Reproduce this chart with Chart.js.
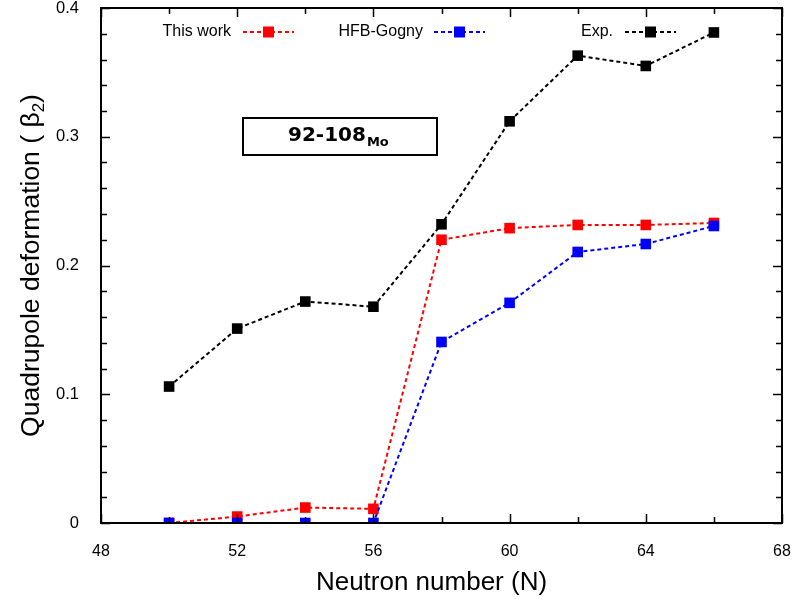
<!DOCTYPE html>
<html>
<head>
<meta charset="utf-8">
<script src="https://cdn.jsdelivr.net/npm/chart.js@4.4.0/dist/chart.umd.min.js"></script>
<style>
  body { margin: 0; background: #fff; }
  #wrap { width: 794px; height: 604px; }
</style>
</head>
<body>
<div id="wrap"><canvas id="canvas" width="794" height="604"></canvas></div>
<script>
  // neutron numbers
  var neutrons = [50, 52, 54, 56, 58, 60, 62, 64, 66];
  // beta2 values
  var thisWork = [0, 0.005, 0.012, 0.011, 0.220, 0.229, 0.2315, 0.2315, 0.233];
  var hfbGogny = [0, 0, 0, 0, 0.1406, 0.171, 0.2105, 0.2167, 0.2307];
  var expData = [0.106, 0.151, 0.172, 0.168, 0.232, 0.312, 0.363, 0.355, 0.381];
  var seriesNames = ['This work', 'HFB-Gogny', 'Exp.'];
  var seriesColors = ['#ff0000', '#0000ff', '#000000'];
  var xTickLabels = [48, 52, 56, 60, 64, 68];
  var yTickLabels = [0, 0.1, 0.2, 0.3, 0.4];

  var FONT = '"Liberation Sans", Arial, sans-serif';

  function toPoints(vals)
  {
    var pts = [];
    for (var i = 0; i < neutrons.length; i++)
    {
      pts.push({x: neutrons[i], y: vals[i]});
    }
    return pts;
  }

  var allSeries = [thisWork, hfbGogny, expData];
  var drawOrder = [2, 1, 3]; // blue sits above red
  var datasets = [];
  for (var s = 0; s < allSeries.length; s++)
  {
    datasets.push({
      label: seriesNames[s],
      data: toPoints(allSeries[s]),
      borderColor: seriesColors[s],
      backgroundColor: seriesColors[s],
      borderWidth: 2,
      borderDash: [4, 3],
      pointStyle: 'rect',
      pointRadius: 7.5,
      pointHoverRadius: 7.5,
      pointBorderWidth: 0,
      tension: 0,
      order: drawOrder[s]
    });
  }

  // ticks on all four sides, frame, titles, legend and the label box
  var framePlugin = {
    id: 'frame',
    afterDraw: function(chart)
    {
      var ctx = chart.ctx;
      var a = chart.chartArea;
      var xs = chart.scales.x, ys = chart.scales.y;
      ctx.save();
      ctx.strokeStyle = '#000';
      ctx.lineWidth = 1.5;
      ctx.beginPath();
      for (var v = 48; v <= 68; v += 2)
      {
        var px = Math.round(xs.getPixelForValue(v)) + 0.5;
        var len = (v % 4 === 0) ? 9 : 6;
        ctx.moveTo(px, a.bottom); ctx.lineTo(px, a.bottom - len);
        ctx.moveTo(px, a.top); ctx.lineTo(px, a.top + len);
      }
      for (var k = 0; k <= 20; k++)
      {
        var py = Math.round(ys.getPixelForValue(k * 0.02)) + 0.5;
        var l2 = (k % 5 === 0) ? 9 : 6;
        ctx.moveTo(a.left, py); ctx.lineTo(a.left + l2, py);
        ctx.moveTo(a.right, py); ctx.lineTo(a.right - l2, py);
      }
      ctx.stroke();
      ctx.lineWidth = 2;
      ctx.strokeRect(a.left, a.top, a.right - a.left, a.bottom - a.top);

      // axis titles
      ctx.fillStyle = '#000';
      ctx.font = '26px ' + FONT;
      ctx.textAlign = 'center';
      ctx.textBaseline = 'middle';
      ctx.fillText('Neutron number (N)', (a.left + a.right) / 2 - 10, 583);

      ctx.save();
      ctx.translate(32, (a.top + a.bottom) / 2);
      ctx.rotate(-Math.PI / 2);
      var main = 'Quadrupole deformation ( β';
      ctx.font = '26.5px ' + FONT;
      var w1 = ctx.measureText(main).width;
      ctx.font = '17px ' + FONT;
      var w2 = ctx.measureText('2').width;
      ctx.font = '26.5px ' + FONT;
      var w3 = ctx.measureText(')').width;
      var x0 = -(w1 + w2 + w3) / 2;
      ctx.textAlign = 'left';
      ctx.fillText(main, x0, 0);
      ctx.font = '17px ' + FONT;
      ctx.fillText('2', x0 + w1, 7);
      ctx.font = '26.5px ' + FONT;
      ctx.fillText(')', x0 + w1 + w2, 0);
      ctx.restore();

      // legend
      var legX = [231, 423, 613];
      var lineX = [243, 434, 625];
      ctx.font = '16px ' + FONT;
      for (var i = 0; i < seriesNames.length; i++)
      {
        ctx.fillStyle = '#000';
        ctx.textAlign = 'right';
        ctx.fillText(seriesNames[i], legX[i], 32);
        ctx.strokeStyle = seriesColors[i];
        ctx.lineWidth = 2;
        ctx.setLineDash([4, 3]);
        ctx.beginPath();
        ctx.moveTo(lineX[i], 32);
        ctx.lineTo(lineX[i] + 51, 32);
        ctx.stroke();
        ctx.setLineDash([]);
        ctx.fillStyle = seriesColors[i];
        ctx.fillRect(lineX[i] + 20, 26.5, 11, 11);
      }

      // nucleus label box
      ctx.strokeStyle = '#000';
      ctx.lineWidth = 2;
      ctx.strokeRect(243, 118, 194, 37);
      ctx.fillStyle = '#000';
      ctx.textAlign = 'left';
      ctx.font = 'bold 20px "DejaVu Sans", sans-serif';
      ctx.fillText('92-108', 288, 136);
      var tw = ctx.measureText('92-108').width;
      ctx.font = 'bold 13px "DejaVu Sans", sans-serif';
      ctx.fillText('Mo', 288 + tw + 1, 143);
      ctx.restore();
    }
  };

  var ctx = document.getElementById('canvas').getContext('2d');
  window.myChart = new Chart(ctx, {
    type: 'line',
    data: { datasets: datasets },
    options: {
      responsive: false,
      animation: false,
      layout: { padding: { left: 0, top: 8, right: 12, bottom: 0 } },
      plugins: {
        legend: { display: false },
        tooltip: { enabled: false }
      },
      scales: {
        x: {
          type: 'linear',
          min: 48,
          max: 68,
          afterFit: function(scale) {
            scale.height = 81;
            scale.paddingLeft = 0;
            scale.paddingRight = 0;
          },
          afterBuildTicks: function(scale) {
            scale.ticks = xTickLabels.map(function(v) { return {value: v}; });
          },
          grid: { display: false },
          border: { display: false },
          ticks: {
            color: '#000',
            font: { family: FONT, size: 16 },
            padding: 11,
            maxRotation: 0
          }
        },
        y: {
          type: 'linear',
          min: 0,
          max: 0.4,
          afterFit: function(scale) {
            scale.width = 101;
            scale.paddingTop = 0;
            scale.paddingBottom = 0;
          },
          afterBuildTicks: function(scale) {
            scale.ticks = yTickLabels.map(function(v) { return {value: v}; });
          },
          grid: { display: false },
          border: { display: false },
          ticks: {
            color: '#000',
            font: { family: FONT, size: 16.5 },
            padding: 14,
            callback: function(v) { return v === 0 ? '0' : v.toFixed(1); }
          }
        }
      }
    },
    plugins: [framePlugin]
  });
</script>
</body>
</html>
